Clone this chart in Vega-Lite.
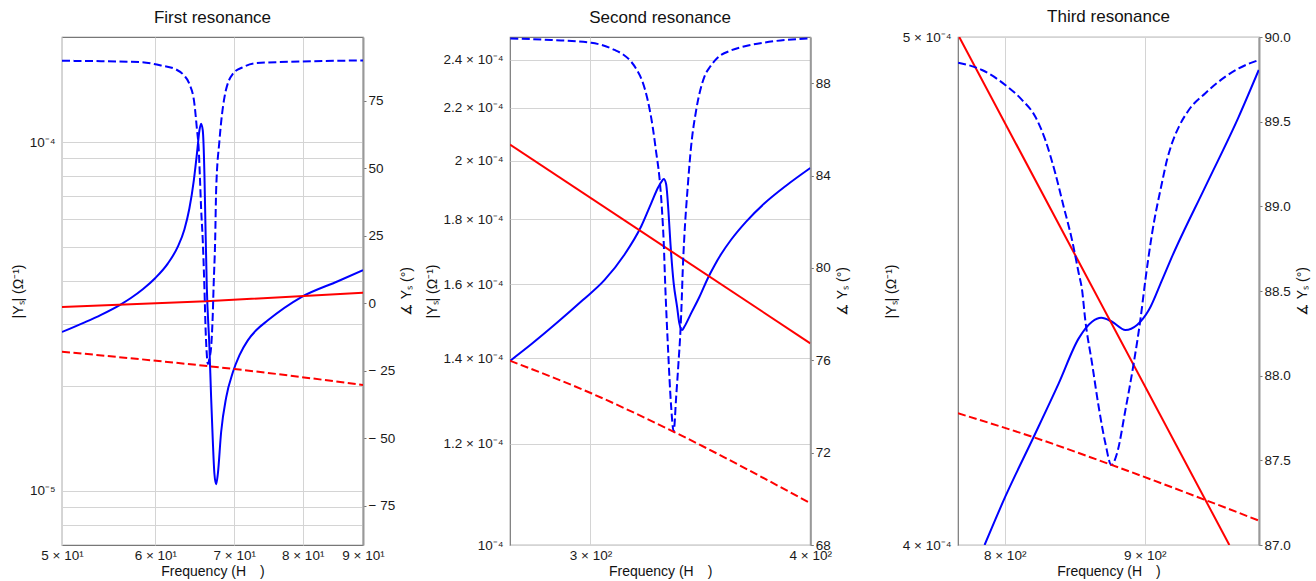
{
 "$schema": "https://vega.github.io/schema/vega-lite/v6.json",
 "background": "white",
 "padding": {"left": 10, "top": 7, "right": 5, "bottom": 2},
 "spacing": 147,
 "bounds": "flush",
 "data": {"values": [
  {"p":1,"k":"mag","s":"resonant","f":50,"v":2.855e-5},
  {"p":1,"k":"mag","s":"resonant","f":52.2,"v":3.038e-5},
  {"p":1,"k":"mag","s":"resonant","f":53.96,"v":3.198e-5},
  {"p":1,"k":"mag","s":"resonant","f":56.1,"v":3.428e-5},
  {"p":1,"k":"mag","s":"resonant","f":57.2,"v":3.573e-5},
  {"p":1,"k":"mag","s":"resonant","f":58.58,"v":3.792e-5},
  {"p":1,"k":"mag","s":"resonant","f":60.0,"v":4.078e-5},
  {"p":1,"k":"mag","s":"resonant","f":61.47,"v":4.483e-5},
  {"p":1,"k":"mag","s":"resonant","f":62.69,"v":5.014e-5},
  {"p":1,"k":"mag","s":"resonant","f":63.5,"v":5.618e-5},
  {"p":1,"k":"mag","s":"resonant","f":64.12,"v":6.451e-5},
  {"p":1,"k":"mag","s":"resonant","f":64.68,"v":7.77e-5},
  {"p":1,"k":"mag","s":"resonant","f":65.09,"v":9.343e-5},
  {"p":1,"k":"mag","s":"resonant","f":65.39,"v":1.0789e-4},
  {"p":1,"k":"mag","s":"resonant","f":65.6,"v":1.129e-4},
  {"p":1,"k":"mag","s":"resonant","f":65.82,"v":1.08e-4},
  {"p":1,"k":"mag","s":"resonant","f":66.03,"v":8.135e-5},
  {"p":1,"k":"mag","s":"resonant","f":66.16,"v":5.848e-5},
  {"p":1,"k":"mag","s":"resonant","f":66.34,"v":3.842e-5},
  {"p":1,"k":"mag","s":"resonant","f":66.68,"v":2.586e-5},
  {"p":1,"k":"mag","s":"resonant","f":66.9,"v":1.859e-5},
  {"p":1,"k":"mag","s":"resonant","f":67.12,"v":1.397e-5},
  {"p":1,"k":"mag","s":"resonant","f":67.33,"v":1.122e-5},
  {"p":1,"k":"mag","s":"resonant","f":67.56,"v":1.045e-5},
  {"p":1,"k":"mag","s":"resonant","f":67.78,"v":1.1165e-5},
  {"p":1,"k":"mag","s":"resonant","f":68.22,"v":1.473e-5},
  {"p":1,"k":"mag","s":"resonant","f":68.9,"v":1.855e-5},
  {"p":1,"k":"mag","s":"resonant","f":69.8,"v":2.188e-5},
  {"p":1,"k":"mag","s":"resonant","f":70.7,"v":2.447e-5},
  {"p":1,"k":"mag","s":"resonant","f":71.87,"v":2.702e-5},
  {"p":1,"k":"mag","s":"resonant","f":73.05,"v":2.887e-5},
  {"p":1,"k":"mag","s":"resonant","f":74.74,"v":3.084e-5},
  {"p":1,"k":"mag","s":"resonant","f":79.73,"v":3.589e-5},
  {"p":1,"k":"mag","s":"resonant","f":85.69,"v":3.99e-5},
  {"p":1,"k":"mag","s":"resonant","f":90,"v":4.29e-5},
  {"p":1,"k":"phase","s":"resonant","f":50,"v":89.9},
  {"p":1,"k":"phase","s":"resonant","f":53.96,"v":89.76},
  {"p":1,"k":"phase","s":"resonant","f":58.34,"v":89.39},
  {"p":1,"k":"phase","s":"resonant","f":60.66,"v":88.17},
  {"p":1,"k":"phase","s":"resonant","f":62.48,"v":86.68},
  {"p":1,"k":"phase","s":"resonant","f":63.46,"v":84.46},
  {"p":1,"k":"phase","s":"resonant","f":64.12,"v":81.38},
  {"p":1,"k":"phase","s":"resonant","f":64.75,"v":74.07},
  {"p":1,"k":"phase","s":"resonant","f":65.05,"v":65.28},
  {"p":1,"k":"phase","s":"resonant","f":65.31,"v":56.64},
  {"p":1,"k":"phase","s":"resonant","f":65.47,"v":45.51},
  {"p":1,"k":"phase","s":"resonant","f":65.6,"v":35.61},
  {"p":1,"k":"phase","s":"resonant","f":65.82,"v":23.26},
  {"p":1,"k":"phase","s":"resonant","f":66.03,"v":5.93},
  {"p":1,"k":"phase","s":"resonant","f":66.19,"v":-10.13},
  {"p":1,"k":"phase","s":"resonant","f":66.31,"v":-17.54},
  {"p":1,"k":"phase","s":"resonant","f":66.47,"v":-22.48},
  {"p":1,"k":"phase","s":"resonant","f":66.71,"v":-20.0},
  {"p":1,"k":"phase","s":"resonant","f":66.9,"v":-16.32},
  {"p":1,"k":"phase","s":"resonant","f":67.12,"v":-3.93},
  {"p":1,"k":"phase","s":"resonant","f":67.23,"v":6.57},
  {"p":1,"k":"phase","s":"resonant","f":67.43,"v":23.26},
  {"p":1,"k":"phase","s":"resonant","f":67.56,"v":41.8},
  {"p":1,"k":"phase","s":"resonant","f":68.0,"v":60.35},
  {"p":1,"k":"phase","s":"resonant","f":68.67,"v":76.41},
  {"p":1,"k":"phase","s":"resonant","f":69.8,"v":85.09},
  {"p":1,"k":"phase","s":"resonant","f":71.18,"v":87.54},
  {"p":1,"k":"phase","s":"resonant","f":73.05,"v":89.02},
  {"p":1,"k":"phase","s":"resonant","f":79.73,"v":89.65},
  {"p":1,"k":"phase","s":"resonant","f":90,"v":90.02},
  {"p":1,"k":"mag","s":"baseline","f":50,"v":3.367e-5},
  {"p":1,"k":"mag","s":"baseline","f":66.25,"v":3.496e-5},
  {"p":1,"k":"mag","s":"baseline","f":90,"v":3.702e-5},
  {"p":1,"k":"phase","s":"baseline","f":50,"v":-17.92},
  {"p":1,"k":"phase","s":"baseline","f":59.5,"v":-21.1},
  {"p":1,"k":"phase","s":"baseline","f":70.0,"v":-24.33},
  {"p":1,"k":"phase","s":"baseline","f":90,"v":-30.27},

  {"p":2,"k":"mag","s":"resonant","f":270.1,"v":1.3944e-4},
  {"p":2,"k":"mag","s":"resonant","f":277.6,"v":1.4362e-4},
  {"p":2,"k":"mag","s":"resonant","f":287.2,"v":1.4935e-4},
  {"p":2,"k":"mag","s":"resonant","f":297.0,"v":1.5554e-4},
  {"p":2,"k":"mag","s":"resonant","f":305.5,"v":1.6124e-4},
  {"p":2,"k":"mag","s":"resonant","f":313.6,"v":1.6881e-4},
  {"p":2,"k":"mag","s":"resonant","f":320.6,"v":1.7771e-4},
  {"p":2,"k":"mag","s":"resonant","f":324.8,"v":1.8521e-4},
  {"p":2,"k":"mag","s":"resonant","f":327.8,"v":1.9063e-4},
  {"p":2,"k":"mag","s":"resonant","f":329.3,"v":1.927e-4},
  {"p":2,"k":"mag","s":"resonant","f":330.2,"v":1.935e-4},
  {"p":2,"k":"mag","s":"resonant","f":331.2,"v":1.9177e-4},
  {"p":2,"k":"mag","s":"resonant","f":332.2,"v":1.8281e-4},
  {"p":2,"k":"mag","s":"resonant","f":333.1,"v":1.7215e-4},
  {"p":2,"k":"mag","s":"resonant","f":334.5,"v":1.6037e-4},
  {"p":2,"k":"mag","s":"resonant","f":336.0,"v":1.5367e-4},
  {"p":2,"k":"mag","s":"resonant","f":337.0,"v":1.4914e-4},
  {"p":2,"k":"mag","s":"resonant","f":338.2,"v":1.4735e-4},
  {"p":2,"k":"mag","s":"resonant","f":339.2,"v":1.4823e-4},
  {"p":2,"k":"mag","s":"resonant","f":342.2,"v":1.5185e-4},
  {"p":2,"k":"mag","s":"resonant","f":346.0,"v":1.5647e-4},
  {"p":2,"k":"mag","s":"resonant","f":349.8,"v":1.6181e-4},
  {"p":2,"k":"mag","s":"resonant","f":352.8,"v":1.6551e-4},
  {"p":2,"k":"mag","s":"resonant","f":355.9,"v":1.6894e-4},
  {"p":2,"k":"mag","s":"resonant","f":360.6,"v":1.7342e-4},
  {"p":2,"k":"mag","s":"resonant","f":367.7,"v":1.7912e-4},
  {"p":2,"k":"mag","s":"resonant","f":376.6,"v":1.8512e-4},
  {"p":2,"k":"mag","s":"resonant","f":387.5,"v":1.9118e-4},
  {"p":2,"k":"mag","s":"resonant","f":400,"v":1.9738e-4},
  {"p":2,"k":"phase","s":"resonant","f":270.1,"v":89.94},
  {"p":2,"k":"phase","s":"resonant","f":285.0,"v":89.87},
  {"p":2,"k":"phase","s":"resonant","f":300.3,"v":89.75},
  {"p":2,"k":"phase","s":"resonant","f":309.6,"v":89.44},
  {"p":2,"k":"phase","s":"resonant","f":313.1,"v":89.24},
  {"p":2,"k":"phase","s":"resonant","f":316.4,"v":88.93},
  {"p":2,"k":"phase","s":"resonant","f":318.9,"v":88.55},
  {"p":2,"k":"phase","s":"resonant","f":321.0,"v":88.1},
  {"p":2,"k":"phase","s":"resonant","f":323.4,"v":87.23},
  {"p":2,"k":"phase","s":"resonant","f":325.5,"v":86.07},
  {"p":2,"k":"phase","s":"resonant","f":326.9,"v":85.03},
  {"p":2,"k":"phase","s":"resonant","f":328.3,"v":83.94},
  {"p":2,"k":"phase","s":"resonant","f":329.4,"v":82.55},
  {"p":2,"k":"phase","s":"resonant","f":330.2,"v":81.04},
  {"p":2,"k":"phase","s":"resonant","f":330.8,"v":79.33},
  {"p":2,"k":"phase","s":"resonant","f":332.0,"v":76.59},
  {"p":2,"k":"phase","s":"resonant","f":333.4,"v":73.99},
  {"p":2,"k":"phase","s":"resonant","f":334.5,"v":72.92},
  {"p":2,"k":"phase","s":"resonant","f":335.6,"v":74.42},
  {"p":2,"k":"phase","s":"resonant","f":336.6,"v":75.87},
  {"p":2,"k":"phase","s":"resonant","f":337.5,"v":77.31},
  {"p":2,"k":"phase","s":"resonant","f":338.1,"v":78.75},
  {"p":2,"k":"phase","s":"resonant","f":338.5,"v":79.91},
  {"p":2,"k":"phase","s":"resonant","f":339.2,"v":81.34},
  {"p":2,"k":"phase","s":"resonant","f":340.7,"v":83.5},
  {"p":2,"k":"phase","s":"resonant","f":342.2,"v":85.24},
  {"p":2,"k":"phase","s":"resonant","f":344.5,"v":86.83},
  {"p":2,"k":"phase","s":"resonant","f":348.2,"v":88.27},
  {"p":2,"k":"phase","s":"resonant","f":350.9,"v":88.72},
  {"p":2,"k":"phase","s":"resonant","f":354.4,"v":89.11},
  {"p":2,"k":"phase","s":"resonant","f":360.6,"v":89.42},
  {"p":2,"k":"phase","s":"resonant","f":367.7,"v":89.61},
  {"p":2,"k":"phase","s":"resonant","f":376.6,"v":89.76},
  {"p":2,"k":"phase","s":"resonant","f":400,"v":89.94},
  {"p":2,"k":"mag","s":"baseline","f":270,"v":2.0591e-4},
  {"p":2,"k":"mag","s":"baseline","f":400,"v":1.4388e-4},
  {"p":2,"k":"phase","s":"baseline","f":270,"v":75.98},
  {"p":2,"k":"phase","s":"baseline","f":300.3,"v":74.57},
  {"p":2,"k":"phase","s":"baseline","f":334.8,"v":72.89},
  {"p":2,"k":"phase","s":"baseline","f":400,"v":69.81},

  {"p":3,"k":"mag","s":"resonant","f":786.6,"v":4.0e-4},
  {"p":3,"k":"mag","s":"resonant","f":800.4,"v":4.0858e-4},
  {"p":3,"k":"mag","s":"resonant","f":819.8,"v":4.1948e-4},
  {"p":3,"k":"mag","s":"resonant","f":837.2,"v":4.2943e-4},
  {"p":3,"k":"mag","s":"resonant","f":851.4,"v":4.38e-4},
  {"p":3,"k":"mag","s":"resonant","f":861.0,"v":4.4121e-4},
  {"p":3,"k":"mag","s":"resonant","f":867.7,"v":4.4198e-4},
  {"p":3,"k":"mag","s":"resonant","f":875.6,"v":4.4121e-4},
  {"p":3,"k":"mag","s":"resonant","f":885.5,"v":4.3961e-4},
  {"p":3,"k":"mag","s":"resonant","f":894.2,"v":4.4058e-4},
  {"p":3,"k":"mag","s":"resonant","f":903.1,"v":4.4348e-4},
  {"p":3,"k":"mag","s":"resonant","f":913.2,"v":4.4937e-4},
  {"p":3,"k":"mag","s":"resonant","f":920.9,"v":4.54e-4},
  {"p":3,"k":"mag","s":"resonant","f":947.1,"v":4.682e-4},
  {"p":3,"k":"mag","s":"resonant","f":974.1,"v":4.8282e-4},
  {"p":3,"k":"mag","s":"resonant","f":990.6,"v":4.9281e-4},
  {"p":3,"k":"phase","s":"resonant","f":769.3,"v":89.848},
  {"p":3,"k":"phase","s":"resonant","f":784.9,"v":89.805},
  {"p":3,"k":"phase","s":"resonant","f":800.4,"v":89.717},
  {"p":3,"k":"phase","s":"resonant","f":811.7,"v":89.629},
  {"p":3,"k":"phase","s":"resonant","f":820.9,"v":89.529},
  {"p":3,"k":"phase","s":"resonant","f":827.8,"v":89.392},
  {"p":3,"k":"phase","s":"resonant","f":834.8,"v":89.195},
  {"p":3,"k":"phase","s":"resonant","f":840.7,"v":88.998},
  {"p":3,"k":"phase","s":"resonant","f":846.6,"v":88.802},
  {"p":3,"k":"phase","s":"resonant","f":851.4,"v":88.605},
  {"p":3,"k":"phase","s":"resonant","f":853.8,"v":88.506},
  {"p":3,"k":"phase","s":"resonant","f":856.1,"v":88.329},
  {"p":3,"k":"phase","s":"resonant","f":861.0,"v":88.073},
  {"p":3,"k":"phase","s":"resonant","f":865.8,"v":87.817},
  {"p":3,"k":"phase","s":"resonant","f":870.7,"v":87.601},
  {"p":3,"k":"phase","s":"resonant","f":875.1,"v":87.472},
  {"p":3,"k":"phase","s":"resonant","f":879.3,"v":87.542},
  {"p":3,"k":"phase","s":"resonant","f":885.5,"v":87.797},
  {"p":3,"k":"phase","s":"resonant","f":891.7,"v":88.073},
  {"p":3,"k":"phase","s":"resonant","f":896.7,"v":88.329},
  {"p":3,"k":"phase","s":"resonant","f":900.5,"v":88.565},
  {"p":3,"k":"phase","s":"resonant","f":905.6,"v":88.841},
  {"p":3,"k":"phase","s":"resonant","f":913.2,"v":89.141},
  {"p":3,"k":"phase","s":"resonant","f":916.9,"v":89.27},
  {"p":3,"k":"phase","s":"resonant","f":920.9,"v":89.373},
  {"p":3,"k":"phase","s":"resonant","f":926.3,"v":89.471},
  {"p":3,"k":"phase","s":"resonant","f":934.0,"v":89.569},
  {"p":3,"k":"phase","s":"resonant","f":947.1,"v":89.668},
  {"p":3,"k":"phase","s":"resonant","f":963.2,"v":89.766},
  {"p":3,"k":"phase","s":"resonant","f":974.1,"v":89.815},
  {"p":3,"k":"phase","s":"resonant","f":990.6,"v":89.864},
  {"p":3,"k":"mag","s":"baseline","f":770.0,"v":5.0e-4},
  {"p":3,"k":"mag","s":"baseline","f":966.4,"v":4.0e-4},
  {"p":3,"k":"phase","s":"baseline","f":769.2,"v":87.778},
  {"p":3,"k":"phase","s":"baseline","f":819.8,"v":87.636},
  {"p":3,"k":"phase","s":"baseline","f":875.6,"v":87.472},
  {"p":3,"k":"phase","s":"baseline","f":990.8,"v":87.144}
 ]},
 "config": {
  "font": "Liberation Sans",
  "view": {"stroke": "#777777", "strokeWidth": 1.2},
  "axis": {
   "labelFont": "Liberation Sans", "labelFontSize": 13.5, "labelColor": "#1a1a1a",
   "titleFont": "Liberation Sans", "titleFontSize": 14, "titleFontWeight": "normal", "titleColor": "#111111",
   "gridColor": "#d4d4d4", "gridWidth": 1, "domain": false, "ticks": false,
   "labelFlush": false, "labelOverlap": false, "labelBound": false,
   "labelPadding": 7, "titlePadding": 4
  },
  "axisX": {"labelPadding": 3, "titlePadding": 3},
  "axisRight": {"ticks": true, "tickSize": 3, "tickColor": "#777777", "domain": true, "domainColor": "#999999", "domainWidth": 2, "labelPadding": 2, "grid": false, "titleAngle": 270, "titleBaseline": "top", "titlePadding": 5},
  "title": {"font": "Liberation Sans", "fontSize": 17, "fontWeight": "normal", "color": "#111111", "baseline": "alphabetic", "frame": "group", "anchor": "middle"}
 },
 "resolve": {"scale": {"x": "independent", "y": "independent"}},
 "hconcat": [
  {
   "width": 301, "height": 508,
   "title": {"text": "First resonance", "offset": 10.3},
   "layer": [
    {
     "transform": [{"filter": "datum.p == 1 && datum.k == 'mag'"}],
     "mark": {"type": "line", "strokeWidth": 2, "clip": true, "interpolate": "monotone"},
     "encoding": {
      "x": {"field": "f", "type": "quantitative", "scale": {"type": "log", "domain": [50, 90], "nice": false},
            "axis": {"values": [50, 60, 70, 80, 90], "grid": true, "labelExpr": "round(datum.value/10) + ' × 10¹'", "title": "Frequency (H\u2003)"}},
      "y": {"field": "v", "type": "quantitative", "scale": {"type": "log", "domain": [7e-6, 2e-4], "nice": false},
            "axis": {"orient": "left", "grid": true, "values": [8e-6, 9e-6, 1e-5, 2e-5, 3e-5, 4e-5, 5e-5, 6e-5, 7e-5, 8e-5, 9e-5, 1e-4],
                     "labelExpr": "abs(log(datum.value)/LN10 + 5) < 0.001 ? '10⁻⁵' : (abs(log(datum.value)/LN10 + 4) < 0.001 ? '10⁻⁴' : '')",
                     "title": "|Yₛ| (Ω⁻¹)"}},
      "color": {"field": "s", "type": "nominal", "scale": {"domain": ["resonant", "baseline"], "range": ["#0000ff", "#ff0000"]}, "legend": null}
     }
    },
    {
     "transform": [{"filter": "datum.p == 1 && datum.k == 'phase'"}],
     "mark": {"type": "line", "strokeWidth": 2, "strokeDash": [8, 3.5], "clip": true, "interpolate": "monotone"},
     "encoding": {
      "x": {"field": "f", "type": "quantitative"},
      "y": {"field": "v", "type": "quantitative", "scale": {"domain": [-89.57, 98.72], "nice": false, "zero": false},
            "axis": {"orient": "right", "grid": false, "values": [-75, -50, -25, 0, 25, 50, 75],
                     "labelExpr": "datum.value < 0 ? '− ' + abs(datum.value) : '' + datum.value",
                     "title": "∡ Yₛ (°)"}},
      "color": {"field": "s", "type": "nominal", "scale": {"domain": ["resonant", "baseline"], "range": ["#0000ff", "#ff0000"]}, "legend": null}
     }
    }
   ],
   "resolve": {"scale": {"y": "independent"}}
  },
  {
   "width": 300.3, "height": 508,
   "title": {"text": "Second resonance", "offset": 10.3},
   "layer": [
    {
     "transform": [{"filter": "datum.p == 2 && datum.k == 'mag'"}],
     "mark": {"type": "line", "strokeWidth": 2, "clip": true, "interpolate": "monotone"},
     "encoding": {
      "x": {"field": "f", "type": "quantitative", "scale": {"type": "log", "domain": [270, 400], "nice": false},
            "axis": {"values": [300, 400], "grid": true, "labelExpr": "round(datum.value/100) + ' × 10²'", "title": "Frequency (H\u2003)"}},
      "y": {"field": "v", "type": "quantitative", "scale": {"type": "log", "domain": [1e-4, 2.5e-4], "nice": false},
            "axis": {"orient": "left", "grid": true, "values": [1e-4, 1.2e-4, 1.4e-4, 1.6e-4, 1.8e-4, 2e-4, 2.2e-4, 2.4e-4],
                     "labelExpr": "datum.value < 1.05e-4 ? '10⁻⁴' : format(datum.value*1e4, '~g') + ' × 10⁻⁴'",
                     "title": "|Yₛ| (Ω⁻¹)"}},
      "color": {"field": "s", "type": "nominal", "scale": {"domain": ["resonant", "baseline"], "range": ["#0000ff", "#ff0000"]}, "legend": null}
     }
    },
    {
     "transform": [{"filter": "datum.p == 2 && datum.k == 'phase'"}],
     "mark": {"type": "line", "strokeWidth": 2, "strokeDash": [8, 3.5], "clip": true, "interpolate": "monotone"},
     "encoding": {
      "x": {"field": "f", "type": "quantitative"},
      "y": {"field": "v", "type": "quantitative", "scale": {"domain": [68, 90], "nice": false, "zero": false},
            "axis": {"orient": "right", "grid": false, "values": [68, 72, 76, 80, 84, 88], "format": "d",
                     "title": "∡ Yₛ (°)"}},
      "color": {"field": "s", "type": "nominal", "scale": {"domain": ["resonant", "baseline"], "range": ["#0000ff", "#ff0000"]}, "legend": null}
     }
    }
   ],
   "resolve": {"scale": {"y": "independent"}}
  },
  {
   "width": 301, "height": 508,
   "title": {"text": "Third resonance", "offset": 3.6},
   "layer": [
    {
     "transform": [{"filter": "datum.p == 3 && datum.k == 'mag'"}],
     "mark": {"type": "line", "strokeWidth": 2, "clip": true, "interpolate": "monotone"},
     "encoding": {
      "x": {"field": "f", "type": "quantitative", "scale": {"type": "log", "domain": [769.2, 990.8], "nice": false},
            "axis": {"values": [800, 900], "grid": true, "labelExpr": "round(datum.value/100) + ' × 10²'", "title": "Frequency (H\u2003)"}},
      "y": {"field": "v", "type": "quantitative", "scale": {"type": "log", "domain": [4e-4, 5e-4], "nice": false},
            "axis": {"orient": "left", "grid": true, "values": [4e-4, 5e-4],
                     "labelExpr": "format(datum.value*1e4, '~g') + ' × 10⁻⁴'",
                     "title": "|Yₛ| (Ω⁻¹)"}},
      "color": {"field": "s", "type": "nominal", "scale": {"domain": ["resonant", "baseline"], "range": ["#0000ff", "#ff0000"]}, "legend": null}
     }
    },
    {
     "transform": [{"filter": "datum.p == 3 && datum.k == 'phase'"}],
     "mark": {"type": "line", "strokeWidth": 2, "strokeDash": [8, 3.5], "clip": true, "interpolate": "monotone"},
     "encoding": {
      "x": {"field": "f", "type": "quantitative"},
      "y": {"field": "v", "type": "quantitative", "scale": {"domain": [87, 90], "nice": false, "zero": false},
            "axis": {"orient": "right", "grid": false, "values": [87, 87.5, 88, 88.5, 89, 89.5, 90], "format": ".1f",
                     "title": "∡ Yₛ (°)"}},
      "color": {"field": "s", "type": "nominal", "scale": {"domain": ["resonant", "baseline"], "range": ["#0000ff", "#ff0000"]}, "legend": null}
     }
    }
   ],
   "resolve": {"scale": {"y": "independent"}}
  }
 ]
}
